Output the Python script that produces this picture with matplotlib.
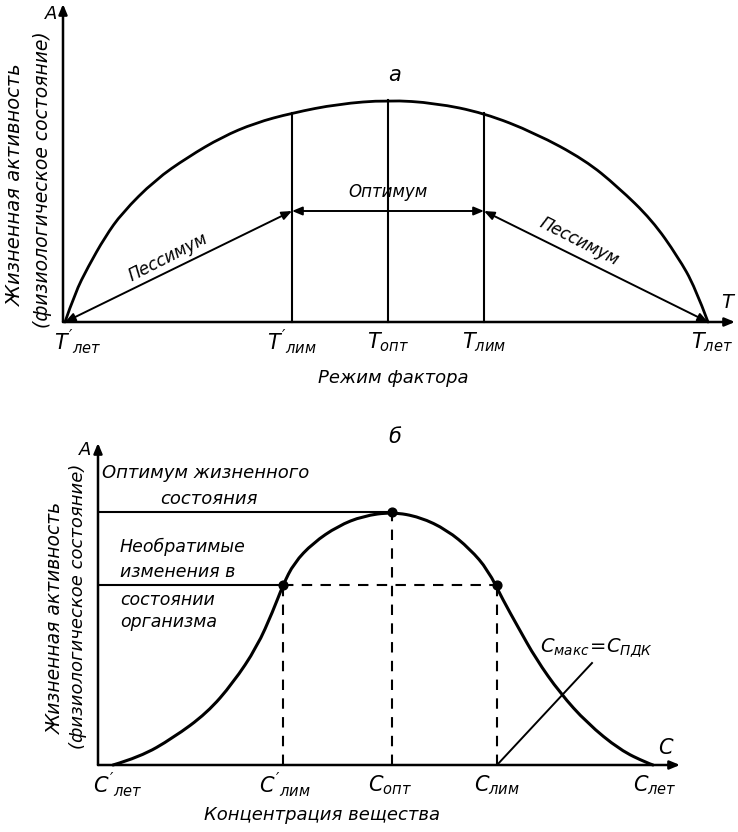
import matplotlib
matplotlib.use("Agg")
import matplotlib.pyplot as plt
from matplotlib.path import Path
from matplotlib.patches import PathPatch

plt.rcParams['font.family'] = ['DejaVu Sans']
plt.rcParams['mathtext.fontset'] = 'custom'
plt.rcParams['mathtext.rm'] = 'DejaVu Sans:italic'
plt.rcParams['mathtext.it'] = 'DejaVu Sans:italic'
plt.rcParams['mathtext.cal'] = 'DejaVu Sans:italic'

# ---------------- data (panel a) ----------------
a_curve_x = [2, 12, 25, 42, 59, 92, 125, 159, 192, 229, 275, 325, 372, 421, 472, 522, 555, 589, 615, 632, 645]
a_curve_y = [0, 29, 55, 85, 109, 142, 165, 185, 199, 209, 218, 222, 219, 209, 189, 162, 135, 102, 65, 35, 0]
a_marks_x = [229, 325, 421]          # T'лим, Tопт, Tлим
a_marks_y = [209, 222, 209]          # curve height at the marks
a_zone_level = 111                   # level of optimum / pessimum arrows
a_ticks_x = [15, 229, 325, 421, 649]
a_tick_labels = [r"$T'_{лет}$", r"$T'_{лим}$", r"$T_{опт}$", r"$T_{лим}$", r"$T_{лет}$"]

# ---------------- data (panel б) ----------------
b_curve_x = [15, 42, 75, 109, 135, 159, 175, 185, 196, 215, 240, 265, 294, 322, 349, 372, 390, 405, 420, 438, 462, 489, 522, 549, 555]
b_curve_y = [0, 8, 27, 52, 82, 118, 154, 180, 202, 222, 239, 249, 253, 248, 235, 216, 195, 165, 138, 106, 72, 42, 15, 2, 0]
b_points_x = [185, 294, 399]         # C'лим, Cопт, Cлим
b_points_y = [180, 253, 180]
b_cross_x = [399, 494]               # Cмакс = CПДК line
b_cross_y = [0, 102]
b_ticks_x = [20, 187, 292, 399, 557]
b_tick_labels = [r"$C'_{лет}$", r"$C'_{лим}$", r"$C_{опт}$", r"$C_{лим}$", r"$C_{лет}$"]

W, H = 738, 832
fig = plt.figure(figsize=(W / 100, H / 100), dpi=100)
fig.patch.set_facecolor('white')


def make_axes(ox, oy, xmax, ymax):
    ax = fig.add_axes([ox / W, (H - oy) / H, xmax / W, ymax / H])
    ax.set_xlim(0, xmax)
    ax.set_ylim(0, ymax)
    ax.axis('off')
    return ax


def arrow(ax, p0, p1, style='-|>', lw=1.4, hw=0.25, hl=0.6):
    ax.annotate('', xy=p1, xytext=p0, annotation_clip=False,
                arrowprops=dict(arrowstyle=f'{style},head_width={hw},head_length={hl}',
                                color='black', lw=lw, shrinkA=0, shrinkB=0))


def smooth_curve(ax, xs, ys, lw):
    """Draw a smooth quadratic-Bezier path using the read points as control points."""
    pts = list(zip(xs, ys))
    verts = [pts[0]]
    codes = [Path.MOVETO]
    n = len(pts)
    for i in range(1, n - 1):
        if i < n - 2:
            end = ((pts[i][0] + pts[i + 1][0]) / 2, (pts[i][1] + pts[i + 1][1]) / 2)
        else:
            end = pts[n - 1]
        verts += [pts[i], end]
        codes += [Path.CURVE3, Path.CURVE3]
    patch = PathPatch(Path(verts, codes), facecolor='none', edgecolor='black', lw=lw,
                      capstyle='round', joinstyle='round', clip_on=False)
    ax.add_patch(patch)


TXT = dict(fontstyle='italic', color='black')

# =============== panel a ===============
ax1 = make_axes(63, 322, 675, 322)
arrow(ax1, (0, 0), (0, 318), lw=1.8)
arrow(ax1, (0, 0), (672, 0), lw=1.8)
smooth_curve(ax1, a_curve_x, a_curve_y, lw=2.0)
for x, y in zip(a_marks_x, a_marks_y):
    ax1.plot([x, x], [0, y], color='black', lw=1.5, clip_on=False)
arrow(ax1, (a_curve_x[0], 0), (a_marks_x[0], a_zone_level), style='<|-|>', lw=1.4)
arrow(ax1, (a_marks_x[0], a_zone_level), (a_marks_x[2], a_zone_level), style='<|-|>', lw=1.4)
arrow(ax1, (a_marks_x[2], a_zone_level), (a_curve_x[-1], 0), style='<|-|>', lw=1.4)

ax1.text(332, 247, 'а', fontsize=15, ha='center', va='center', **TXT)
ax1.text(664, 19, 'T', fontsize=14, ha='center', va='center', **TXT)
ax1.text(325, 130, 'Оптимум', fontsize=12, ha='center', va='center', **TXT)
ax1.text(105, 65, 'Пессимум', fontsize=12, ha='center', va='center', rotation=27, **TXT)
ax1.text(516, 80, 'Пессимум', fontsize=12, ha='center', va='center', rotation=-27, **TXT)
for x, lab in zip(a_ticks_x, a_tick_labels):
    ax1.text(x, -20, lab, fontsize=15, ha='center', va='center', **TXT)
ax1.text(330, -56, 'Режим фактора', fontsize=13, ha='center', va='center', **TXT)
ax1.text(-48, 137, 'Жизненная активность', fontsize=14, ha='center', va='center', rotation=90, **TXT)
ax1.text(-20, 142, '(физиологическое состояние)', fontsize=13.5, ha='center', va='center', rotation=90, **TXT)
ax1.text(-12, 308, 'A', fontsize=13, ha='center', va='center', **TXT)

# =============== panel б ===============
ax2 = make_axes(98, 765, 640, 345)
arrow(ax2, (0, 0), (0, 322), lw=1.8)
arrow(ax2, (0, 0), (582, 0), lw=1.8)
smooth_curve(ax2, b_curve_x, b_curve_y, lw=2.2)
# horizontal reference lines
ax2.plot([0, b_points_x[1]], [b_points_y[1], b_points_y[1]], color='black', lw=1.5)
ax2.plot([0, b_points_x[0]], [b_points_y[0], b_points_y[0]], color='black', lw=1.5)
ax2.plot([b_points_x[0], b_points_x[2]], [b_points_y[0], b_points_y[2]], color='black', lw=1.5,
         ls=(0, (5, 4)))
for x, y in zip(b_points_x, b_points_y):
    ax2.plot([x, x], [0, y], color='black', lw=1.5, ls=(0, (5, 4)))
ax2.scatter(b_points_x, b_points_y, s=40, color='black', zorder=5)
ax2.plot(b_cross_x, b_cross_y, color='black', lw=1.4)

ax2.text(297, 328, 'б', fontsize=15, ha='center', va='center', **TXT)
ax2.text(-13, 315, 'A', fontsize=13, ha='center', va='center', **TXT)
ax2.text(567, 17, 'C', fontsize=15, ha='center', va='center', **TXT)
ax2.text(4, 292, 'Оптимум жизненного', fontsize=13, ha='left', va='center', **TXT)
ax2.text(111, 266, 'состояния', fontsize=13, ha='center', va='center', **TXT)
ax2.text(22, 218, 'Необратимые', fontsize=12.5, ha='left', va='center', **TXT)
ax2.text(22, 193, 'изменения в', fontsize=12.5, ha='left', va='center', **TXT)
ax2.text(22, 165, 'состоянии', fontsize=12.5, ha='left', va='center', **TXT)
ax2.text(22, 143, 'организма', fontsize=12.5, ha='left', va='center', **TXT)
ax2.text(442, 117, r"$C_{макс}\!=\!C_{ПДК}$", fontsize=14, ha='left', va='center', **TXT)
for x, lab in zip(b_ticks_x, b_tick_labels):
    ax2.text(x, -20, lab, fontsize=15, ha='center', va='center', **TXT)
ax2.text(224, -50, 'Концентрация вещества', fontsize=13, ha='center', va='center', **TXT)
ax2.text(-43, 147, 'Жизненная активность', fontsize=13.5, ha='center', va='center', rotation=90, **TXT)
ax2.text(-20, 159, '(физиологическое состояние)', fontsize=13, ha='center', va='center', rotation=90, **TXT)

fig.savefig('out.png', dpi=100, facecolor='white')
